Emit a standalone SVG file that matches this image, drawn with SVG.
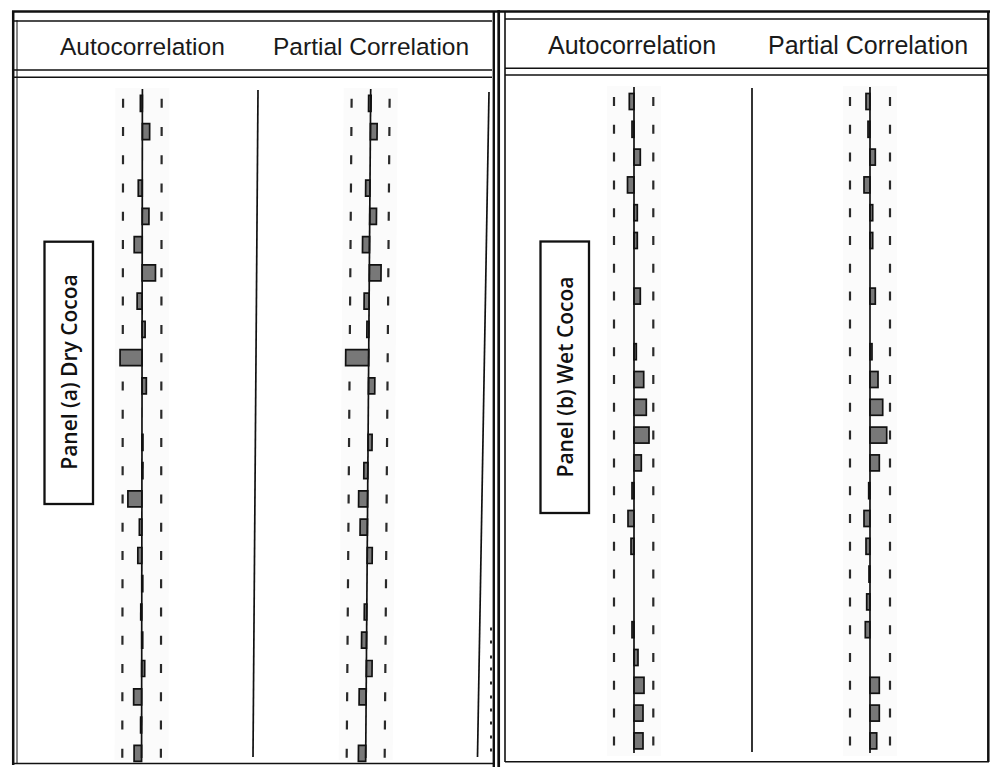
<svg xmlns="http://www.w3.org/2000/svg" width="995" height="767" viewBox="0 0 995 767">
  <style>
    .hdr { font-family: "Liberation Sans", Arial, sans-serif; font-size: 24.5px; fill: #1a1a1a; }
    .lbl { font-family: "Open Sans", "Noto Sans", sans-serif; font-size: 21px; font-weight: 600; fill: #111; }
    .frame { fill: none; stroke: #111; }
    .zero { stroke: #111; stroke-width: 1.7; fill: none; }
    .dashL { stroke: #2a2a2a; stroke-width: 2.2; fill: none; stroke-dasharray: 9 19.26; }
    .dashR { stroke: #2a2a2a; stroke-width: 2.2; fill: none; stroke-dasharray: 9 18.8; }
    .bar { fill: #787878; stroke: #111; stroke-width: 1.7; }
    .band { fill: #fbfbfb; }
    .tick { fill: #222; }
  </style>

  <rect x="0" y="0" width="995" height="767" fill="#ffffff"/>

  <!-- Left panel frame -->
  <g id="panel-a-frame">
    <line class="frame" x1="12" y1="11.5" x2="500" y2="11.5" stroke-width="2.5"/>
    <line class="frame" x1="13.2" y1="11" x2="13.2" y2="765" stroke-width="2.5"/>
    <line class="frame" x1="17" y1="20" x2="17" y2="764" stroke-width="1" stroke="#555"/>
    <line class="frame" x1="14" y1="21" x2="492" y2="21" stroke-width="1.6" stroke="#333"/>
    <line class="frame" x1="14" y1="70" x2="492" y2="70" stroke-width="1.6" stroke="#333"/>
    <line class="frame" x1="14" y1="77.3" x2="492" y2="77.3" stroke-width="1.6" stroke="#333"/>
    <line class="frame" x1="493.8" y1="11" x2="493.8" y2="767" stroke-width="2.4"/>
    <line class="frame" x1="498.7" y1="10" x2="498.7" y2="767" stroke-width="2.7"/>
    <line class="frame" x1="12" y1="763.5" x2="493" y2="763.5" stroke-width="1.6" stroke="#777"/>
    <text class="hdr" x="60" y="55">Autocorrelation</text>
    <text class="hdr" x="273" y="55">Partial Correlation</text>
  </g>

  <!-- Right panel frame -->
  <g id="panel-b-frame">
    <line class="frame" x1="500" y1="11.5" x2="990" y2="11.5" stroke-width="2.5"/>
    <line class="frame" x1="505" y1="12" x2="505" y2="762" stroke-width="1.6" stroke="#555"/>
    <line class="frame" x1="505" y1="19" x2="988" y2="19" stroke-width="1.6" stroke="#333"/>
    <line class="frame" x1="505" y1="68.3" x2="988" y2="68.3" stroke-width="1.6" stroke="#333"/>
    <line class="frame" x1="505" y1="75" x2="988" y2="75" stroke-width="1.6" stroke="#333"/>
    <line class="frame" x1="988.3" y1="11" x2="988.3" y2="762" stroke-width="2.5"/>
    <line class="frame" x1="505" y1="761.8" x2="989" y2="761.8" stroke-width="1.6" stroke="#666"/>
    <text class="hdr" x="548" y="53.5" style="font-size:25px">Autocorrelation</text>
    <text class="hdr" x="768" y="53.5" style="font-size:25px">Partial Correlation</text>
  </g>

  <!-- Column separators -->
  <g id="separators">
    <line class="zero" x1="258" y1="90" x2="253" y2="757" stroke-width="1.5"/>
    <line class="zero" x1="489" y1="92" x2="477.5" y2="757" stroke-width="1.5"/>
    <line class="zero" x1="752" y1="88" x2="752" y2="752" stroke-width="1.5"/>
    <g class="tick">
      <rect x="490" y="627.5" width="2" height="3"/>
      <rect x="490" y="640.5" width="2" height="3"/>
      <rect x="490" y="655.5" width="2" height="3"/>
      <rect x="490" y="667.5" width="2" height="3"/>
      <rect x="490" y="681.5" width="2" height="3"/>
      <rect x="490" y="695.5" width="2" height="3"/>
      <rect x="490" y="708.5" width="2" height="3"/>
      <rect x="490" y="721.5" width="2" height="3"/>
      <rect x="490" y="735.5" width="2" height="3"/>
      <rect x="490" y="748.5" width="2" height="3"/>
    </g>
  </g>

  <!-- Panel (a): autocorrelation -->
  <g id="acf-a" transform="translate(142.5,0) skewX(-0.069)">
    <rect class="band" x="-27" y="88" width="54" height="672"/>
    <line class="dashL" x1="-19.3" y1="98.8" x2="-19.3" y2="758"/>
    <line class="dashL" x1="19.3" y1="98.8" x2="19.3" y2="758"/>
    <rect class="bar" x="-2" y="95.3" width="2" height="16"/>
    <rect class="bar" x="0" y="123.6" width="7.3" height="16"/>
    <rect class="bar" x="-4" y="180.1" width="4" height="16"/>
    <rect class="bar" x="0" y="208.3" width="6.7" height="16"/>
    <rect class="bar" x="-8" y="236.6" width="8" height="16"/>
    <rect class="bar" x="0" y="264.9" width="13.3" height="16"/>
    <rect class="bar" x="-5" y="293.1" width="5" height="16"/>
    <rect class="bar" x="0" y="321.4" width="3" height="16"/>
    <rect class="bar" x="-22" y="349.6" width="22" height="16"/>
    <rect class="bar" x="0" y="377.9" width="4.3" height="16"/>
    <rect class="bar" x="0" y="434.4" width="1" height="16"/>
    <rect class="bar" x="0" y="462.7" width="1" height="16"/>
    <rect class="bar" x="-14" y="490.9" width="14" height="16"/>
    <rect class="bar" x="-2.5" y="519.2" width="2.5" height="16"/>
    <rect class="bar" x="-4" y="547.5" width="4" height="16"/>
    <rect class="bar" x="0" y="575.7" width="1" height="16"/>
    <rect class="bar" x="-1" y="604" width="1" height="16"/>
    <rect class="bar" x="0" y="632.2" width="1" height="16"/>
    <rect class="bar" x="0" y="660.5" width="3" height="16"/>
    <rect class="bar" x="-8" y="688.8" width="8" height="16"/>
    <rect class="bar" x="-1" y="717" width="1" height="16"/>
    <rect class="bar" x="-7.5" y="745.3" width="7.5" height="16"/>
    <line class="zero" x1="0" y1="89" x2="0" y2="758"/>
  </g>

  <!-- Panel (a): partial correlation -->
  <g id="pacf-a" transform="translate(371.37,0) skewX(-0.4295)">
    <rect class="band" x="-27" y="88" width="54" height="672"/>
    <line class="dashL" x1="-19" y1="98.8" x2="-19" y2="758"/>
    <line class="dashL" x1="19" y1="98.8" x2="19" y2="758"/>
    <rect class="bar" x="-2" y="95.3" width="2.5" height="16"/>
    <rect class="bar" x="0" y="123.6" width="6.7" height="16"/>
    <rect class="bar" x="-4.3" y="180.1" width="4.3" height="16"/>
    <rect class="bar" x="0" y="208.3" width="6.7" height="16"/>
    <rect class="bar" x="-7" y="236.6" width="7" height="16"/>
    <rect class="bar" x="0" y="264.9" width="11.7" height="16"/>
    <rect class="bar" x="-5" y="293.1" width="5" height="16"/>
    <rect class="bar" x="-2" y="321.4" width="2" height="16"/>
    <rect class="bar" x="-23" y="349.6" width="23" height="16"/>
    <rect class="bar" x="0" y="377.9" width="6.3" height="16"/>
    <rect class="bar" x="0" y="434.4" width="4" height="16"/>
    <rect class="bar" x="-4" y="462.7" width="4" height="16"/>
    <rect class="bar" x="-9" y="490.9" width="9" height="16"/>
    <rect class="bar" x="-7.3" y="519.2" width="7.3" height="16"/>
    <rect class="bar" x="0" y="547.5" width="5" height="16"/>
    <rect class="bar" x="-2.5" y="604" width="2.5" height="16"/>
    <rect class="bar" x="-5" y="632.2" width="5" height="16"/>
    <rect class="bar" x="0" y="660.5" width="5.7" height="16"/>
    <rect class="bar" x="-7" y="688.8" width="7" height="16"/>
    <rect class="bar" x="-7.3" y="745.3" width="7.3" height="16"/>
    <line class="zero" x1="0" y1="89" x2="0" y2="758"/>
  </g>

  <!-- Panel (b): autocorrelation -->
  <g id="acf-b" transform="translate(634,0)">
    <rect class="band" x="-27" y="86" width="54" height="670"/>
    <line class="dashR" x1="-20" y1="97" x2="-20" y2="745.4"/>
    <line class="dashR" x1="19.3" y1="97" x2="19.3" y2="745.4"/>
    <rect class="bar" x="-4.7" y="93.5" width="4.7" height="16"/>
    <rect class="bar" x="-2" y="121.3" width="2" height="16"/>
    <rect class="bar" x="0" y="149.1" width="6.3" height="16"/>
    <rect class="bar" x="-6.5" y="176.9" width="6.5" height="16"/>
    <rect class="bar" x="0" y="204.7" width="3.3" height="16"/>
    <rect class="bar" x="0" y="232.5" width="3.3" height="16"/>
    <rect class="bar" x="0" y="288.1" width="6.3" height="16"/>
    <rect class="bar" x="0" y="343.7" width="2.3" height="16"/>
    <rect class="bar" x="0" y="371.5" width="9.7" height="16"/>
    <rect class="bar" x="0" y="399.3" width="12.3" height="16"/>
    <rect class="bar" x="0" y="427.1" width="15" height="16"/>
    <rect class="bar" x="0" y="454.9" width="7.3" height="16"/>
    <rect class="bar" x="-2" y="482.7" width="2" height="16"/>
    <rect class="bar" x="-6" y="510.5" width="6" height="16"/>
    <rect class="bar" x="-3" y="538.3" width="3" height="16"/>
    <rect class="bar" x="-2" y="621.7" width="2" height="16"/>
    <rect class="bar" x="0" y="649.5" width="4" height="16"/>
    <rect class="bar" x="0" y="677.3" width="10" height="16"/>
    <rect class="bar" x="0" y="705.1" width="9" height="16"/>
    <rect class="bar" x="0" y="732.9" width="9" height="16"/>
    <line class="zero" x1="0" y1="87" x2="0" y2="753"/>
  </g>

  <!-- Panel (b): partial correlation -->
  <g id="pacf-b" transform="translate(870,0)">
    <rect class="band" x="-27" y="86" width="54" height="670"/>
    <line class="dashR" x1="-20" y1="97" x2="-20" y2="745.4"/>
    <line class="dashR" x1="20" y1="97" x2="20" y2="745.4"/>
    <rect class="bar" x="-4" y="93.5" width="4" height="16"/>
    <rect class="bar" x="-2" y="121.3" width="2" height="16"/>
    <rect class="bar" x="0" y="149.1" width="5.3" height="16"/>
    <rect class="bar" x="-6" y="176.9" width="6" height="16"/>
    <rect class="bar" x="0" y="204.7" width="2.7" height="16"/>
    <rect class="bar" x="0" y="232.5" width="2.7" height="16"/>
    <rect class="bar" x="0" y="288.1" width="5.3" height="16"/>
    <rect class="bar" x="0" y="343.7" width="2" height="16"/>
    <rect class="bar" x="0" y="371.5" width="8" height="16"/>
    <rect class="bar" x="0" y="399.3" width="12.7" height="16"/>
    <rect class="bar" x="0" y="427.1" width="16.7" height="16"/>
    <rect class="bar" x="0" y="454.9" width="9.3" height="16"/>
    <rect class="bar" x="-1.3" y="482.7" width="1.3" height="16"/>
    <rect class="bar" x="-6" y="510.5" width="6" height="16"/>
    <rect class="bar" x="-4" y="538.3" width="4" height="16"/>
    <rect class="bar" x="-1" y="566.1" width="1" height="16"/>
    <rect class="bar" x="-3.3" y="593.9" width="3.3" height="16"/>
    <rect class="bar" x="-4.7" y="621.7" width="4.7" height="16"/>
    <rect class="bar" x="0" y="677.3" width="9.3" height="16"/>
    <rect class="bar" x="0" y="705.1" width="9.3" height="16"/>
    <rect class="bar" x="0" y="732.9" width="6.7" height="16"/>
    <line class="zero" x1="0" y1="87" x2="0" y2="753"/>
  </g>

  <!-- Panel labels -->
  <g id="label-a">
    <rect x="44.5" y="241.7" width="48.5" height="262.3" fill="#fff" stroke="#111" stroke-width="2.3"/>
    <text class="lbl" x="76.5" y="372" text-anchor="middle" transform="rotate(-90 76.5 372)">Panel (a) Dry Cocoa</text>
  </g>
  <g id="label-b">
    <rect x="540.5" y="241.5" width="48.5" height="271.5" fill="#fff" stroke="#111" stroke-width="2.3"/>
    <text class="lbl" x="572.5" y="377" text-anchor="middle" transform="rotate(-90 572.5 377)">Panel (b) Wet Cocoa</text>
  </g>
</svg>
